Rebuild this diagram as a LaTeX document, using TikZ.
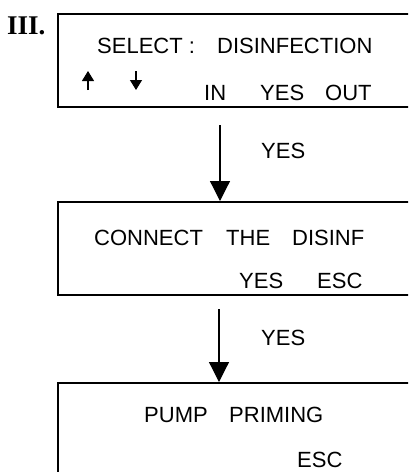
\documentclass[tikz,border=0pt]{standalone}
\usepackage{fontspec}
\setmainfont{Liberation Sans}
\newfontfamily\numfont{Liberation Serif}
\usetikzlibrary{arrows.meta}
\begin{document}
\begin{tikzpicture}[x=1pt,y=-1pt,
  screen/.style={draw=black,line width=1.4pt},
  lbl/.style={inner sep=0pt,anchor=base west,font=\fontsize{22}{24}\selectfont},
  flow/.style={line width=1.2pt,-{Triangle[width=20pt,length=20pt]}},
  key/.style={line width=1.2pt,-{Triangle[width=12pt,length=10pt]}}]
\useasboundingbox (0,0) rectangle (408,472);
\clip (0,0) rectangle (408,472);
% step label
\node[inner sep=0pt,anchor=base west,font=\numfont\fontsize{27}{27}\bfseries\selectfont] (num) at (7,34) {III.};
% display screens
\draw[screen] (58,14) rectangle (420,107);
\draw[screen] (58,202) rectangle (420,295);
\draw[screen] (58,383) rectangle (420,480);
\coordinate (s1b) at (220,125);
\coordinate (s2t) at (220,201);
\coordinate (s2b) at (219,309);
\coordinate (s3t) at (219,382);
% screen 1
\node[lbl] (sel) at (97,53) {SELECT :};
\node[lbl] (dis) at (217,53) {DISINFECTION};
\coordinate (upb) at (88,90);
\coordinate (upt) at (88,71);
\coordinate (dnt) at (136,71);
\coordinate (dnb) at (136,90);
\draw[key] (upb) -- (upt);
\draw[key] (dnt) -- (dnb);
\node[lbl] (in) at (204,100) {IN};
\node[lbl] (yes1) at (260,100) {YES};
\node[lbl] (out) at (325,100) {OUT};
% transition 1
\draw[flow] (s1b) -- (s2t);
\node[lbl] (y1) at (261,158) {YES};
% screen 2
\node[lbl] (con) at (94,245) {CONNECT};
\node[lbl] (the) at (226,245) {THE};
\node[lbl] (dsf) at (292,245) {DISINF};
\node[lbl] (yes2) at (239,288) {YES};
\node[lbl] (esc2) at (317,288) {ESC};
% transition 2
\draw[flow] (s2b) -- (s3t);
\node[lbl] (y2) at (261,345) {YES};
% screen 3
\node[lbl] (pump) at (144,422) {PUMP};
\node[lbl] (prim) at (229,422) {PRIMING};
\node[lbl] (esc3) at (297,467) {ESC};
\end{tikzpicture}
\end{document}
